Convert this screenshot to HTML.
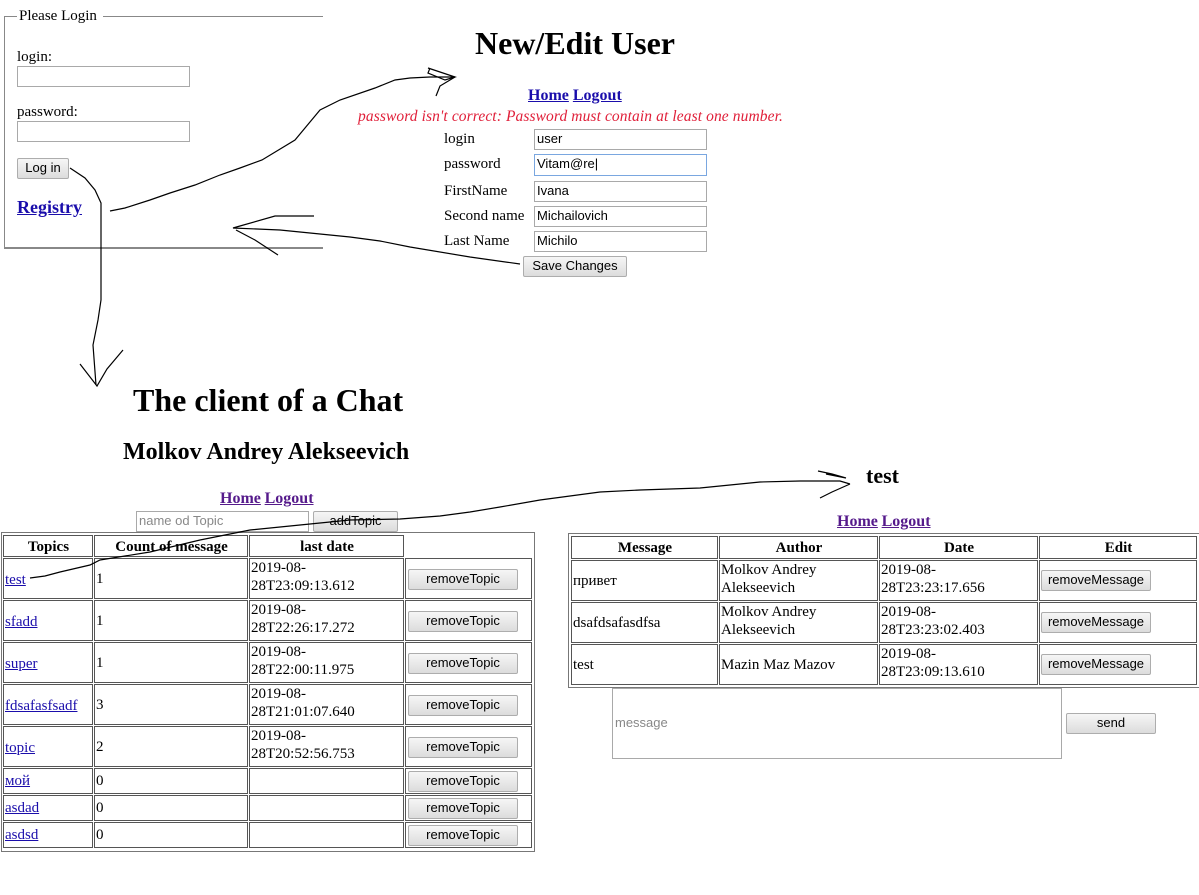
<!DOCTYPE html>
<html><head><meta charset="utf-8"><style>
body{margin:0;width:1199px;height:895px;background:#fff;position:relative;overflow:hidden;font-family:"Liberation Serif",serif;font-size:15px;color:#000}
.a{position:absolute;white-space:nowrap}
.inp{position:absolute;border:1px solid #a9a9a9;background:#fff;box-sizing:border-box;font-family:"Liberation Sans",sans-serif;font-size:13px;padding:2px 2px;line-height:14px}
.btn{position:absolute;border:1px solid #adadad;background:linear-gradient(#f6f6f6,#dcdcdc);box-sizing:border-box;font-family:"Liberation Sans",sans-serif;font-size:13px;text-align:center;line-height:18px;border-radius:2px}
.lk{color:#1a0dab;text-decoration:underline}
.vl{color:#551a8b;text-decoration:underline;font-weight:bold;font-size:16px}
.c{position:absolute;border:1px solid #555;box-sizing:border-box;font-size:15px;line-height:18px;padding-left:1px}
.h{font-weight:bold;text-align:center;line-height:19px;padding-top:2px}
</style></head><body>

<div class="a" style="left:4px;top:16px;width:1px;height:233px;background:#888"></div>
<div class="a" style="left:4px;top:16px;width:13px;height:1px;background:#888"></div>
<div class="a" style="left:103px;top:16px;width:220px;height:1px;background:#888"></div>
<div class="a" style="left:4px;top:247px;width:319px;height:2px;background:#888"></div>
<div class="a" style="left:19px;top:8px">Please Login</div>
<div class="a" style="left:17px;top:49px">login:</div>
<div class="inp" style="left:17px;top:66px;width:173px;height:21px"></div>
<div class="a" style="left:17px;top:104px">password:</div>
<div class="inp" style="left:17px;top:121px;width:173px;height:21px"></div>
<div class="btn" style="left:17px;top:158px;width:52px;height:21px">Log in</div>
<div class="a lk" style="left:17px;top:197px;font-weight:bold;font-size:18px">Registry</div>

<div class="a" style="left:475px;top:25px;font-weight:bold;font-size:32px">New/Edit User</div>
<div class="a" style="left:528px;top:87px;font-weight:bold;font-size:16px"><span class="lk">Home</span> <span class="lk">Logout</span></div>
<div class="a" style="left:358px;top:108px;font-style:italic;color:#e0203a;font-size:15.5px;letter-spacing:0.1px">password isn't correct: Password must contain at least one number.</div>
<div class="a" style="left:444px;top:131px">login</div>
<div class="a" style="left:444px;top:156px">password</div>
<div class="a" style="left:444px;top:183px">FirstName</div>
<div class="a" style="left:444px;top:208px">Second name</div>
<div class="a" style="left:444px;top:233px">Last Name</div>
<div class="inp" style="left:534px;top:129px;width:173px;height:21px">user</div>
<div class="inp" style="left:534px;top:154px;width:173px;height:22px;border-color:#7aa7e0">Vitam@re|</div>
<div class="inp" style="left:534px;top:181px;width:173px;height:21px">Ivana</div>
<div class="inp" style="left:534px;top:206px;width:173px;height:21px">Michailovich</div>
<div class="inp" style="left:534px;top:231px;width:173px;height:21px">Michilo</div>
<div class="btn" style="left:523px;top:256px;width:104px;height:21px">Save Changes</div>

<div class="a" style="left:133px;top:382px;font-weight:bold;font-size:32px">The client of a Chat</div>
<div class="a" style="left:123px;top:439px;font-weight:bold;font-size:24px">Molkov Andrey Alekseevich</div>
<div class="a" style="left:220px;top:490px"><span class="vl">Home</span> <span class="vl">Logout</span></div>
<div class="inp" style="left:136px;top:511px;width:173px;height:21px;color:#888">name od Topic</div>
<div class="btn" style="left:313px;top:511px;width:85px;height:21px">addTopic</div>

<div class="a" style="left:1px;top:532px;width:534px;height:320px;border:1px solid #777;box-sizing:border-box"></div>
<div class="c h" style="left:3px;top:535px;width:90px;height:22px">Topics</div>
<div class="c h" style="left:94px;top:535px;width:154px;height:22px">Count of message</div>
<div class="c h" style="left:249px;top:535px;width:155px;height:22px">last date</div>

<div class="c" style="left:3px;top:558px;width:90px;height:41px;padding-top:12px"><span class="lk">test</span></div>
<div class="c" style="left:94px;top:558px;width:154px;height:41px;padding-top:11px">1</div>
<div class="c" style="left:249px;top:558px;width:155px;height:41px">2019-08-<br>28T23:09:13.612</div>
<div class="c" style="left:405px;top:558px;width:127px;height:41px"><div class="btn" style="left:2px;top:10px;width:110px;height:21px">removeTopic</div></div>

<div class="c" style="left:3px;top:600px;width:90px;height:41px;padding-top:12px"><span class="lk">sfadd</span></div>
<div class="c" style="left:94px;top:600px;width:154px;height:41px;padding-top:11px">1</div>
<div class="c" style="left:249px;top:600px;width:155px;height:41px">2019-08-<br>28T22:26:17.272</div>
<div class="c" style="left:405px;top:600px;width:127px;height:41px"><div class="btn" style="left:2px;top:10px;width:110px;height:21px">removeTopic</div></div>

<div class="c" style="left:3px;top:642px;width:90px;height:41px;padding-top:12px"><span class="lk">super</span></div>
<div class="c" style="left:94px;top:642px;width:154px;height:41px;padding-top:11px">1</div>
<div class="c" style="left:249px;top:642px;width:155px;height:41px">2019-08-<br>28T22:00:11.975</div>
<div class="c" style="left:405px;top:642px;width:127px;height:41px"><div class="btn" style="left:2px;top:10px;width:110px;height:21px">removeTopic</div></div>

<div class="c" style="left:3px;top:684px;width:90px;height:41px;padding-top:12px"><span class="lk">fdsafasfsadf</span></div>
<div class="c" style="left:94px;top:684px;width:154px;height:41px;padding-top:11px">3</div>
<div class="c" style="left:249px;top:684px;width:155px;height:41px">2019-08-<br>28T21:01:07.640</div>
<div class="c" style="left:405px;top:684px;width:127px;height:41px"><div class="btn" style="left:2px;top:10px;width:110px;height:21px">removeTopic</div></div>

<div class="c" style="left:3px;top:726px;width:90px;height:41px;padding-top:12px"><span class="lk">topic</span></div>
<div class="c" style="left:94px;top:726px;width:154px;height:41px;padding-top:11px">2</div>
<div class="c" style="left:249px;top:726px;width:155px;height:41px">2019-08-<br>28T20:52:56.753</div>
<div class="c" style="left:405px;top:726px;width:127px;height:41px"><div class="btn" style="left:2px;top:10px;width:110px;height:21px">removeTopic</div></div>

<div class="c" style="left:3px;top:768px;width:90px;height:26px;padding-top:3px"><span class="lk">мой</span></div>
<div class="c" style="left:94px;top:768px;width:154px;height:26px;padding-top:3px">0</div>
<div class="c" style="left:249px;top:768px;width:155px;height:26px"></div>
<div class="c" style="left:405px;top:768px;width:127px;height:26px"><div class="btn" style="left:2px;top:2px;width:110px;height:21px">removeTopic</div></div>

<div class="c" style="left:3px;top:795px;width:90px;height:26px;padding-top:3px"><span class="lk">asdad</span></div>
<div class="c" style="left:94px;top:795px;width:154px;height:26px;padding-top:3px">0</div>
<div class="c" style="left:249px;top:795px;width:155px;height:26px"></div>
<div class="c" style="left:405px;top:795px;width:127px;height:26px"><div class="btn" style="left:2px;top:2px;width:110px;height:21px">removeTopic</div></div>

<div class="c" style="left:3px;top:822px;width:90px;height:26px;padding-top:3px"><span class="lk">asdsd</span></div>
<div class="c" style="left:94px;top:822px;width:154px;height:26px;padding-top:3px">0</div>
<div class="c" style="left:249px;top:822px;width:155px;height:26px"></div>
<div class="c" style="left:405px;top:822px;width:127px;height:26px"><div class="btn" style="left:2px;top:2px;width:110px;height:21px">removeTopic</div></div>

<div class="a" style="left:866px;top:463px;font-weight:bold;font-size:22px">test</div>
<div class="a" style="left:837px;top:513px"><span class="vl">Home</span> <span class="vl">Logout</span></div>
<div class="a" style="left:568px;top:533px;width:640px;height:155px;border:1px solid #777;box-sizing:border-box"></div>
<div class="c h" style="left:571px;top:536px;width:147px;height:23px">Message</div>
<div class="c h" style="left:719px;top:536px;width:159px;height:23px">Author</div>
<div class="c h" style="left:879px;top:536px;width:159px;height:23px">Date</div>
<div class="c h" style="left:1039px;top:536px;width:158px;height:23px">Edit</div>

<div class="c" style="left:571px;top:560px;width:147px;height:41px;padding-top:11px">привет</div>
<div class="c" style="left:719px;top:560px;width:159px;height:41px">Molkov Andrey<br>Alekseevich</div>
<div class="c" style="left:879px;top:560px;width:159px;height:41px">2019-08-<br>28T23:23:17.656</div>
<div class="c" style="left:1039px;top:560px;width:158px;height:41px"><div class="btn" style="left:1px;top:9px;width:110px;height:21px">removeMessage</div></div>

<div class="c" style="left:571px;top:602px;width:147px;height:41px;padding-top:11px">dsafdsafasdfsa</div>
<div class="c" style="left:719px;top:602px;width:159px;height:41px">Molkov Andrey<br>Alekseevich</div>
<div class="c" style="left:879px;top:602px;width:159px;height:41px">2019-08-<br>28T23:23:02.403</div>
<div class="c" style="left:1039px;top:602px;width:158px;height:41px"><div class="btn" style="left:1px;top:9px;width:110px;height:21px">removeMessage</div></div>

<div class="c" style="left:571px;top:644px;width:147px;height:41px;padding-top:11px">test</div>
<div class="c" style="left:719px;top:644px;width:159px;height:41px;padding-top:11px">Mazin Maz Mazov</div>
<div class="c" style="left:879px;top:644px;width:159px;height:41px">2019-08-<br>28T23:09:13.610</div>
<div class="c" style="left:1039px;top:644px;width:158px;height:41px"><div class="btn" style="left:1px;top:9px;width:110px;height:21px">removeMessage</div></div>

<div class="inp" style="left:612px;top:688px;width:450px;height:71px;padding-top:27px;color:#888">message</div>
<div class="btn" style="left:1066px;top:713px;width:90px;height:21px">send</div>

<svg class="a" style="left:0;top:0" width="1199" height="895" fill="none" stroke="#000" stroke-width="1.2">
<polyline points="110,211 125,208 150,200 170,193 195,185 220,175 240,168 262,160 295,140 320,110 340,100 375,88 395,80 410,78 430,77 455,77"/>
<polyline points="428,68 440,72 455,77 445,80 428,73 430,68"/>
<polyline points="455,77 440,86 436,96"/>
<polyline points="70,168 85,178 95,190 101,203 101,300 98,320 93,345 96,385"/>
<polyline points="80,364 97,386 107,369 123,350"/>
<polyline points="314,216 275,216 240,226 233,228 280,230 300,232 350,237 380,241 410,247 470,257 520,264"/>
<polyline points="236,230 255,240 278,255"/>
<polyline points="30,578 45,576 60,572 90,565 100,560 150,552 200,540 250,530 300,525 350,520 400,519 440,516 470,512 500,507 540,500 600,492 640,490 700,488 760,482 800,481 840,481 850,484"/>
<polyline points="818,471 832,474 846,478 826,474"/>
<polyline points="850,484 832,492 820,498"/>
</svg>
</body></html>
